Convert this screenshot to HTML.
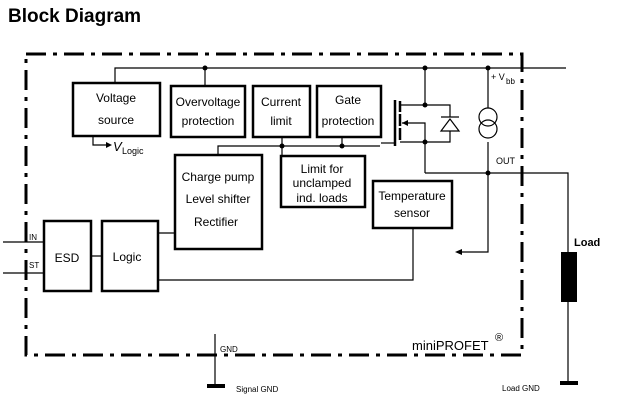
<!DOCTYPE html>
<html><head><style>body{margin:0;background:#fff}svg{display:block}</style></head><body>
<svg width="628" height="411" viewBox="0 0 628 411" xmlns="http://www.w3.org/2000/svg" font-family="Liberation Sans, Arial, sans-serif">
<text x="8" y="22" font-size="19" font-weight="bold">Block Diagram</text>
<rect x="26" y="54" width="496" height="301" fill="none" stroke="#000" stroke-width="3" stroke-dasharray="20,7,4,7"/>
<g stroke="#000" stroke-width="1.2" fill="none">
<path d="M115 83V68H566"/>
<path d="M205 68V86"/>
<path d="M93 136V145H108"/>
<path d="M218 155V146H380"/>
<path d="M282 137V156M342 137V146"/>
<path d="M3 242H44M3 273H44M91 256H102M158 233H174M158 280H413V228"/>
<path d="M425 68V105M400 105H450V117M450 131V142H400M402 123H425V173M425 142V142"/>
<path d="M381 143H395"/>
<path d="M488 68V108M488 142V252H457"/>
<path d="M425 173H568V383"/>
<path d="M215 334V385"/>
</g>
<polygon points="112,145 106,142 106,148" fill="#000"/>
<polygon points="455,252 462,249 462,255" fill="#000"/>
<polygon points="402,123 408,120 408,126" fill="#000"/>
<g stroke="#000" stroke-width="2.5" fill="none">
<rect x="73" y="83" width="87" height="53"/>
<rect x="171" y="86" width="74" height="51"/>
<rect x="253" y="86" width="57" height="51"/>
<rect x="317" y="86" width="64" height="51"/>
<rect x="175" y="155" width="87" height="94"/>
<rect x="281" y="156" width="84" height="51"/>
<rect x="373" y="181" width="79" height="47"/>
<rect x="44" y="221" width="47" height="70"/>
<rect x="102" y="221" width="56" height="70"/>
<path d="M395 100V146M400 101V112M400 114V126M400 128V140"/>
</g>
<g stroke="#000" stroke-width="1.2" fill="none">
<path d="M441 117H459M441 131H459L450 119Z"/>
<circle cx="488" cy="117" r="9"/><circle cx="488" cy="129" r="9"/>
</g>
<g fill="#000">
<circle cx="205" cy="68" r="2.5"/><circle cx="425" cy="68" r="2.5"/><circle cx="488" cy="68" r="2.5"/>
<circle cx="425" cy="105" r="2.5"/><circle cx="425" cy="142" r="2.5"/><circle cx="488" cy="173" r="2.5"/>
<circle cx="282" cy="146" r="2.5"/><circle cx="342" cy="146" r="2.5"/>
<rect x="561" y="252" width="16" height="50"/>
<rect x="560" y="381" width="18" height="4"/>
<rect x="207" y="384" width="18" height="4"/>
</g>
<g font-size="12" text-anchor="middle">
<text x="116" y="102">Voltage</text><text x="116" y="124">source</text>
<text x="208" y="106">Overvoltage</text><text x="208" y="125">protection</text>
<text x="281" y="106">Current</text><text x="281" y="125">limit</text>
<text x="348" y="104">Gate</text><text x="348" y="125">protection</text>
<text x="218" y="181">Charge pump</text><text x="218" y="203">Level shifter</text><text x="216" y="226">Rectifier</text>
<text x="322" y="173">Limit for</text><text x="322" y="187">unclamped</text><text x="322" y="202">ind. loads</text>
<text x="412" y="200">Temperature</text><text x="412" y="217">sensor</text>
<text x="67" y="262">ESD</text><text x="127" y="261">Logic</text>
</g>
<text x="113" y="151" font-size="13" font-style="italic">V</text><text x="122" y="154" font-size="9">Logic</text>
<text x="29" y="240" font-size="8">IN</text><text x="29" y="268" font-size="8">ST</text>
<text x="491" y="80" font-size="9">+ V</text><text x="506" y="84" font-size="8">bb</text>
<text x="496" y="164" font-size="9">OUT</text>
<text x="574" y="246" font-size="11" font-weight="bold">Load</text>
<text x="220" y="352" font-size="8">GND</text>
<text x="236" y="392" font-size="8">Signal GND</text>
<text x="502" y="391" font-size="8">Load GND</text>
<text x="412" y="350" font-size="13">miniPROFET</text><text x="495" y="341" font-size="11">®</text>
</svg>
</body></html>
